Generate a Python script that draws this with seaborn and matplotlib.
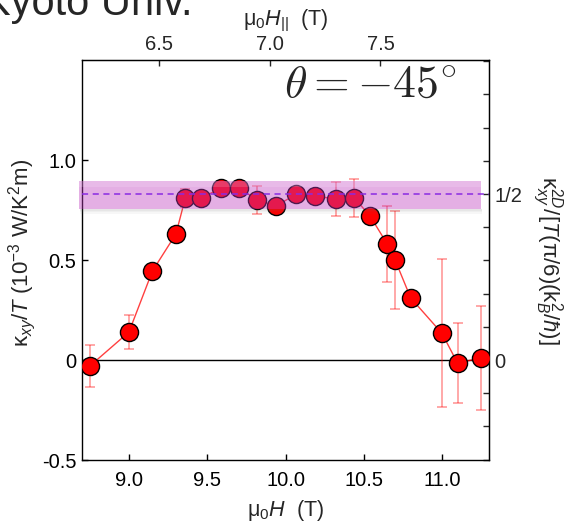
import numpy as np
import pandas as pd
import matplotlib
matplotlib.use("Agg")
import matplotlib.pyplot as plt
from matplotlib.ticker import FixedLocator, FixedFormatter
import seaborn as sns

# ---- data ----
field_T = [8.75, 9.00, 9.15, 9.30, 9.36, 9.46, 9.59, 9.70, 9.82, 9.94, 10.07,
           10.19, 10.32, 10.44, 10.54, 10.65, 10.70, 10.80, 11.00, 11.10, 11.25]
kxy_over_T = [-0.03, 0.14, 0.445, 0.63, 0.81, 0.81, 0.86, 0.86, 0.80, 0.77, 0.83,
              0.82, 0.805, 0.81, 0.72, 0.58, 0.50, 0.31, 0.133, -0.017, 0.012]
kxy_err = [0.107, 0.085, 0.03, 0.03, 0.045, 0.03, 0.03, 0.03, 0.068, 0.03, 0.03,
           0.03, 0.085, 0.095, 0.03, 0.19, 0.245, 0.03, 0.37, 0.20, 0.26]
half_quant = 0.83          # kxy/T value for the 1/2 quantized level
band_lo, band_hi = 0.755, 0.895
band_x = [8.68, 11.25]
top_ticks = [6.5, 7.0, 7.5]
right_tick_labels = {0.0: "0", 0.5: "1/2"}
angle_deg = 45.0

df = pd.DataFrame({"H": field_T, "k": kxy_over_T, "err": kxy_err})

sns.set_style("ticks")
plt.rcParams["font.family"] = ["Liberation Sans", "DejaVu Sans"]
plt.rcParams["mathtext.fontset"] = "custom"
plt.rcParams["mathtext.rm"] = "Liberation Sans"
plt.rcParams["mathtext.it"] = "Liberation Sans:italic"
plt.rcParams["mathtext.bf"] = "Liberation Sans:bold"
plt.rcParams["axes.unicode_minus"] = False

TICK_FS = 14.5
LAB_FS = 15.5

fig = plt.figure(figsize=(5.65, 5.24), dpi=100)
ax = fig.add_axes([82/565, 1-460/524, (489-82)/565, (460-60)/524])

# zero line
ax.axhline(0, color="black", lw=1.0, zorder=1)

# error bars
ax.errorbar(df["H"], df["k"], yerr=df["err"], fmt="none", ecolor=(1, 0, 0, 0.4),
            elinewidth=1.2, capsize=3.8, capthick=1.2, zorder=2)

# connecting line and markers
sns.lineplot(data=df, x="H", y="k", ax=ax, color="red", lw=1.0, alpha=0.75,
             sort=True, zorder=3, legend=False)
sns.scatterplot(data=df, x="H", y="k", ax=ax, color="red", s=170,
                edgecolor="black", linewidth=1.0, zorder=4, legend=False)

# soft shadow under the band
for i, a in enumerate([0.16, 0.10, 0.05]):
    d = 0.008
    ax.add_patch(plt.Rectangle((band_x[0] + 0.005, band_lo - d*(i+1)), band_x[1]-band_x[0],
                               d, facecolor=(0.4, 0.4, 0.4, a), edgecolor="none",
                               zorder=5, clip_on=False))
# quantized band
ax.add_patch(plt.Rectangle((band_x[0], band_lo), band_x[1]-band_x[0], band_hi-band_lo,
                           facecolor=(0.745, 0.24, 0.745, 0.41), edgecolor="none",
                           zorder=5, clip_on=False))
ax.add_patch(plt.Rectangle((band_x[0], band_hi - 0.03), band_x[1]-band_x[0], 0.03,
                           facecolor=(1, 1, 1, 0.15), edgecolor="none",
                           zorder=5, clip_on=False))
ax.axhline(half_quant, color="#8A2BE2", lw=1.1, ls=(0, (4, 3)), zorder=6)

ax.set_xlim(8.7, 11.3)
ax.set_ylim(-0.5, 1.5)
ax.set_xticks([9.0, 9.5, 10.0, 10.5, 11.0])
ax.set_xticklabels(["9.0", "9.5", "10.0", "10.5", "11.0"])
ax.set_yticks([-0.5, 0.0, 0.5, 1.0])
ax.set_yticklabels(["-0.5", "0", "0.5", "1.0"])
ax.tick_params(direction="in", length=4, width=1, labelsize=TICK_FS, colors="black")
ax.tick_params(axis="x", pad=8)
ax.tick_params(axis="y", pad=4)
for s in ax.spines.values():
    s.set_linewidth(1.0)
    s.set_color("black")
ax.set_xlabel("μ$_0$$H$  (T)", fontsize=LAB_FS, labelpad=6)
ax.set_ylabel("κ$_{xy}$/$T$ (10$^{-3}$ W/K$^2$m)", fontsize=16)
ax.yaxis.set_label_coords(-(82-38)/407, (460-253)/400)

# top axis: in-plane field
c = np.cos(np.radians(angle_deg))
top = ax.secondary_xaxis("top", functions=(lambda h: h*c, lambda h: h/c))
top.set_xticks(top_ticks)
top.set_xticklabels([f"{t:.1f}" for t in top_ticks])
top.tick_params(direction="in", length=4, width=1, labelsize=TICK_FS, pad=4)
top.set_xlabel("μ$_0$$H_{||}$  (T)", fontsize=LAB_FS, labelpad=7)

# right axis: quantized units
right = ax.secondary_yaxis("right", functions=(lambda y: y/(2*half_quant), lambda q: q*2*half_quant))
rticks = np.round(np.arange(-0.3, 0.95, 0.1), 2)
right.yaxis.set_major_locator(FixedLocator(rticks))
right.yaxis.set_major_formatter(FixedFormatter([right_tick_labels.get(float(t), "") for t in rticks]))
right.tick_params(direction="in", length=4, width=1, labelsize=TICK_FS, pad=4)
right.set_ylabel("κ$_{xy}^{2D}$/[$T$(π/6)(k$_B^2$/$\\hbar$)]", fontsize=16,
                 rotation=270, labelpad=30)

ax.text(0.921, 0.9375, r"$\theta = -45^{\circ}$", transform=ax.transAxes, ha="right",
        va="center", fontsize=33, math_fontfamily="cm", zorder=7)

fig.text(-0.03, 1-15/524, "Kyoto Univ.", fontsize=30, va="baseline", ha="left")

fig.savefig("out.png", dpi=100)
